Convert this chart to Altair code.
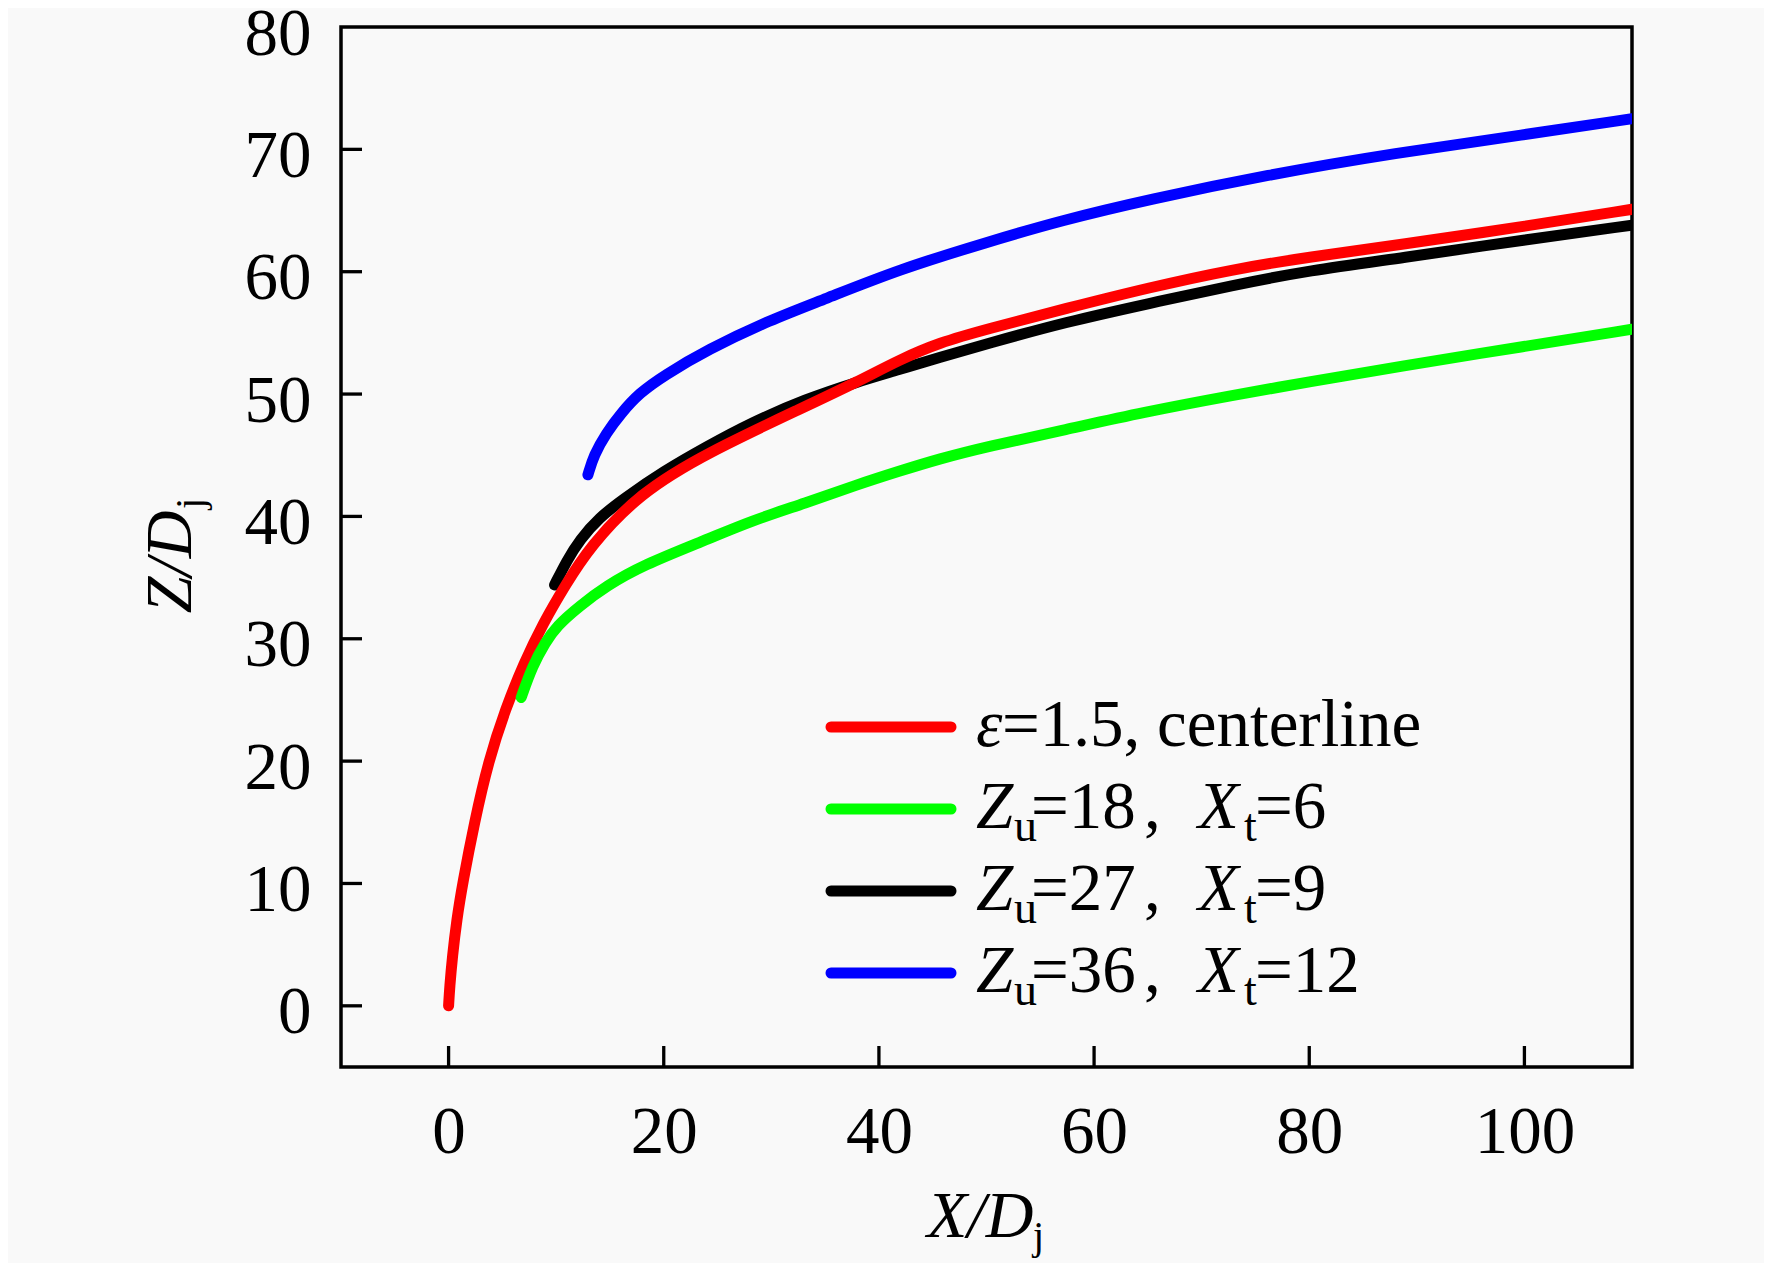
import altair as alt
import pandas as pd

# ---------------- data ----------------
SERIES = ["eps15", "zu18", "zu27", "zu36"]
COLORS = ["#ff0000", "#00ff00", "#000000", "#0000ff"]

RED_X = [0, 0.1, 0.35, 0.75, 1.3, 2.4, 3.7, 5.3, 7.0, 8.8, 10.8, 13.1, 17.75, 24, 33.2, 38, 41.9,
         45.6, 50, 57.4, 65.1, 72.9, 80, 88.4, 100, 110]
RED_Y = [0, 1.5, 4, 7, 10, 15, 20, 24.3, 28, 31.3, 34.3, 37.5, 41.9, 45.2, 49, 51, 52.8,
         54.2, 55.3, 57.0, 58.7, 60.2, 61.2, 62.2, 63.7, 65.1]

GRN_X = [6.75, 7.8, 9, 10, 12.2, 14.65, 18, 24, 28, 33.2, 38, 41.9, 45.6, 50, 57.4, 64.5,
         72.9, 80, 88, 100, 110]
GRN_Y = [25.2, 27.8, 29.7, 31.0, 32.7, 34.3, 36.0, 38.1, 39.6, 41.1, 42.6, 43.7, 44.7, 45.7,
         47.1, 48.5, 49.9, 51.0, 52.2, 53.9, 55.3]

BLK_X = [9.85, 11, 12.2, 14, 16.2, 20, 24, 28, 33.2, 38, 41.9, 45.6, 50, 57.4, 65.1, 72.9,
         80, 88.4, 100, 110]
BLK_Y = [34.4, 36.4, 38.1, 39.9, 41.4, 43.7, 45.7, 47.6, 49.6, 51.0, 52.0, 53.0, 54.1, 55.9,
         57.4, 58.9, 60.1, 61.1, 62.6, 63.8]

BLU_X = [12.95, 13.5, 14.65, 16, 17.75, 20, 24, 30, 34.8, 41.9, 50, 57, 65.1, 76, 88, 100, 110]
BLU_Y = [43.4, 45.0, 46.8, 48.4, 50.1, 51.5, 53.6, 56.1, 57.7, 60.2, 62.4, 64.2, 65.9, 67.9,
         69.7, 71.2, 72.5]

X_TICKS = [0, 20, 40, 60, 80, 100]
Y_TICKS = [0, 10, 20, 30, 40, 50, 60, 70, 80]
Y_INNER_TICKS = [0, 10, 20, 30, 40, 50, 60, 70]

# legend text pieces (rows 1..3)
LEG_ROWS = [1, 2, 3]
LEG_ZU = ["=18", "=27", "=36"]
LEG_XT = ["=6", "=9", "=12"]
LEG0_SYM = "\u03b5"
LEG0_TXT = "=1.5, centerline"

# ---------------- layout ----------------
FONT = "Liberation Serif"
FS = 67
W, H = 1291, 1040
xs = alt.Scale(domain=[-10, 110], nice=False, zero=False)
ys = alt.Scale(domain=[-5, 80], nice=False, zero=False)

xaxis = alt.Axis(values=X_TICKS, title=None, grid=False, domain=False, ticks=False, tickSize=0,
                 labelFont=FONT, labelFontSize=FS, labelColor="black", labelPadding=32,
                 labelFlush=False, labelAngle=0)
yaxis = alt.Axis(values=Y_TICKS, title=None, grid=False, domain=False, ticks=False, tickSize=0,
                 labelFont=FONT, labelFontSize=FS, labelColor="black", labelPadding=30,
                 labelBaseline="alphabetic", labelOffset=27, labelFlush=False)


def curve(xv, yv, color):
    df = pd.DataFrame({"x": xv, "y": yv})
    return alt.Chart(df).mark_line(
        color=color, strokeWidth=11, strokeCap="round", strokeJoin="round",
        interpolate="basis", clip=True
    ).encode(x=alt.X("x:Q", scale=xs, axis=xaxis), y=alt.Y("y:Q", scale=ys, axis=yaxis))


one = pd.DataFrame({"k": [0]})


def label(text, x, y, size=FS, italic=False, angle=0):
    kw = dict(text=text, font=FONT, fontSize=size, color="black", align="left",
              baseline="alphabetic", fontStyle="italic" if italic else "normal")
    if angle:
        kw["angle"] = angle
    return alt.Chart(one).mark_text(**kw).encode(x=alt.value(x), y=alt.value(y))


# inward ticks
xt = alt.Chart(pd.DataFrame({"v": X_TICKS})).mark_rule(color="black", strokeWidth=3.3).encode(
    x=alt.X("v:Q", scale=xs, axis=xaxis), y=alt.value(H), y2=alt.value(H - 21))
yt = alt.Chart(pd.DataFrame({"v": Y_INNER_TICKS})).mark_rule(color="black", strokeWidth=3.3).encode(
    y=alt.Y("v:Q", scale=ys, axis=yaxis), x=alt.value(0), x2=alt.value(21))

# legend
LEG_Y0, LEG_DY = 700, 82
leg_lines = alt.Chart(pd.DataFrame({"row": [0, 1, 2, 3], "s": SERIES})).transform_calculate(
    ly=f"{LEG_Y0} + {LEG_DY} * datum.row"
).mark_rule(strokeWidth=11, strokeCap="round").encode(
    x=alt.value(490), x2=alt.value(610), y=alt.Y("ly:Q", scale=None),
    color=alt.Color("s:N", scale=alt.Scale(domain=SERIES, range=COLORS), legend=None))

leg_df = pd.DataFrame({"row": LEG_ROWS, "zu": LEG_ZU, "xt": LEG_XT})
leg_base = alt.Chart(leg_df).transform_calculate(
    ty=f"{LEG_Y0 + 19} + {LEG_DY} * datum.row",
    sy=f"{LEG_Y0 + 19 + 13} + {LEG_DY} * datum.row")


def ltext(x, ycol, size=FS, italic=False, text=None, field=None):
    kw = dict(font=FONT, fontSize=size, color="black", align="left", baseline="alphabetic",
              fontStyle="italic" if italic else "normal")
    if text is not None:
        kw["text"] = text
    m = leg_base.mark_text(**kw)
    enc = dict(x=alt.value(x), y=alt.Y(f"{ycol}:Q", scale=None))
    if field is not None:
        enc["text"] = alt.Text(f"{field}:N")
    return m.encode(**enc)


SUB = 46
legend_layers = [
    leg_lines,
    label(LEG0_SYM, 635, LEG_Y0 + 19, italic=True),
    label(LEG0_TXT, 661, LEG_Y0 + 19),
    ltext(635, "ty", italic=True, text="Z"),
    ltext(673, "sy", size=SUB, text="u"),
    ltext(690, "ty", field="zu"),
    ltext(803, "ty", text=","),
    ltext(857, "ty", italic=True, text="X"),
    ltext(903, "sy", size=SUB, text="t"),
    ltext(914, "ty", field="xt"),
]

titles = [
    label("X/D", 586, 1210, size=66, italic=True),
    label("j", 692, 1222, size=40),
    alt.Chart(one).mark_text(text="Z/D", font=FONT, fontSize=66, fontStyle="italic", color="black",
                             align="center", baseline="alphabetic", angle=270).encode(
        x=alt.value(-150), y=alt.value(535)),
    label("j", -138, 482, size=40, angle=270),
]

chart = alt.layer(
    xt, yt,
    curve(BLK_X, BLK_Y, COLORS[2]),
    curve(RED_X, RED_Y, COLORS[0]),
    curve(GRN_X, GRN_Y, COLORS[1]),
    curve(BLU_X, BLU_Y, COLORS[3]),
    *legend_layers,
    *titles,
).properties(
    width=W, height=H,
    autosize=alt.AutoSizeParams(type="none"),
    padding={"left": 333, "top": 19, "right": 132, "bottom": 196},
    background="#f9f9f9",
).configure_view(stroke="black", strokeWidth=3.5)

chart.save("out.html", embed_options={"renderer": "svg", "actions": False})
